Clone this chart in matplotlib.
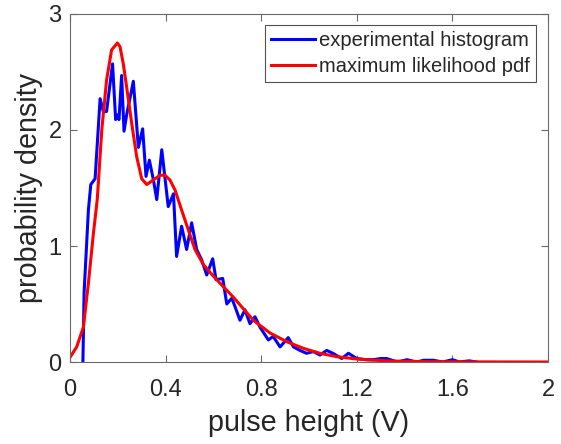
import numpy as np
import matplotlib
matplotlib.use('Agg')
import matplotlib.pyplot as plt

# experimental histogram
hist_x = [0.054, 0.059, 0.077, 0.087, 0.105, 0.126, 0.139, 0.153, 0.178, 0.191, 0.198,
          0.205, 0.216, 0.226, 0.237, 0.265, 0.286, 0.304, 0.318, 0.332, 0.349, 0.363,
          0.384, 0.411, 0.433, 0.446, 0.467, 0.488, 0.509, 0.530, 0.551, 0.572, 0.597,
          0.611, 0.639, 0.656, 0.677, 0.690, 0.711, 0.732, 0.753, 0.774, 0.795, 0.830,
          0.850, 0.879, 0.913, 0.935, 0.962, 0.990, 1.018, 1.046, 1.074, 1.100, 1.137,
          1.165, 1.200, 1.240, 1.270, 1.300, 1.325, 1.370, 1.410, 1.450, 1.480, 1.520,
          1.560, 1.600, 1.630, 1.670, 1.700]
hist_y = [0.0, 0.60, 1.31, 1.53, 1.58, 2.27, 2.16, 2.16, 2.57, 2.09, 2.13,
          2.09, 2.47, 1.99, 2.13, 2.42, 1.85, 2.01, 1.60, 1.74, 1.57, 1.40,
          1.83, 1.34, 1.45, 0.91, 1.17, 0.97, 1.20, 0.97, 0.88, 0.75, 0.89,
          0.71, 0.72, 0.50, 0.55, 0.48, 0.36, 0.45, 0.33, 0.39, 0.30, 0.19,
          0.22, 0.13, 0.21, 0.13, 0.10, 0.075, 0.09, 0.06, 0.10, 0.075, 0.03,
          0.075, 0.03, 0.02, 0.02, 0.03, 0.03, 0.0, 0.02, 0.0, 0.015, 0.015,
          0.0, 0.02, 0.0, 0.01, 0.0]

# maximum likelihood pdf
pdf_x = [0.0, 0.028, 0.056, 0.077, 0.098, 0.114, 0.133, 0.153, 0.174, 0.198, 0.209,
         0.223, 0.237, 0.258, 0.279, 0.300, 0.321, 0.349, 0.377, 0.397, 0.418, 0.440,
         0.467, 0.495, 0.523, 0.558, 0.600, 0.641, 0.683, 0.725, 0.767, 0.837, 0.907,
         0.976, 1.046, 1.116, 1.190, 1.255, 1.350, 1.500, 1.700, 2.0]
pdf_y = [0.04, 0.13, 0.30, 0.68, 1.11, 1.40, 2.00, 2.43, 2.69, 2.75, 2.72,
         2.57, 2.37, 2.06, 1.77, 1.58, 1.53, 1.57, 1.61, 1.61, 1.57, 1.48,
         1.31, 1.14, 0.97, 0.84, 0.74, 0.65, 0.56, 0.46, 0.36, 0.25, 0.175,
         0.118, 0.075, 0.046, 0.028, 0.017, 0.008, 0.003, 0.001, 0.0]

xticks = [0, 0.4, 0.8, 1.2, 1.6, 2]
xtick_labels = ['0', '0.4', '0.8', '1.2', '1.6', '2']
yticks = [0, 1, 2, 3]

plt.rcParams['font.family'] = ['Liberation Sans', 'DejaVu Sans']
txt = '#262626'
edge = '#6a6a6a'

fig = plt.figure(figsize=(5.61, 4.44), dpi=100)
ax = fig.add_axes([70/561, 82/444, 478/561, 348/444])

ax.plot(hist_x, hist_y, color='#0000ff', lw=2.2, label='experimental histogram')
ax.plot(pdf_x, pdf_y, color='#ff0000', lw=2.2, label='maximum likelihood pdf')

ax.set_xlim(0, 2)
ax.set_ylim(0, 3)
ax.set_xticks(xticks)
ax.set_xticklabels(xtick_labels)
ax.set_yticks(yticks)
ax.tick_params(direction='in', length=5, width=0.8, top=True, right=True,
               labelsize=17, colors=edge, labelcolor=txt)
ax.tick_params(axis='x', pad=12)
ax.tick_params(axis='y', pad=6)
for s in ax.spines.values():
    s.set_color(edge)
    s.set_linewidth(0.8)

ax.set_xlabel('pulse height (V)', fontsize=20.7, color=txt, labelpad=6)
ax.set_ylabel('probability density', fontsize=20.7, color=txt, labelpad=4)

leg = ax.legend(loc='upper right', fontsize=14.5, frameon=True, fancybox=False,
                edgecolor=txt, handlelength=2.2, handletextpad=0.2,
                borderpad=0.3, labelspacing=0.35, bbox_to_anchor=(0.975, 0.968),
                borderaxespad=0)
leg.get_frame().set_linewidth(0.8)
for t in leg.get_texts():
    t.set_color(txt)

fig.savefig('out.png', dpi=100)
